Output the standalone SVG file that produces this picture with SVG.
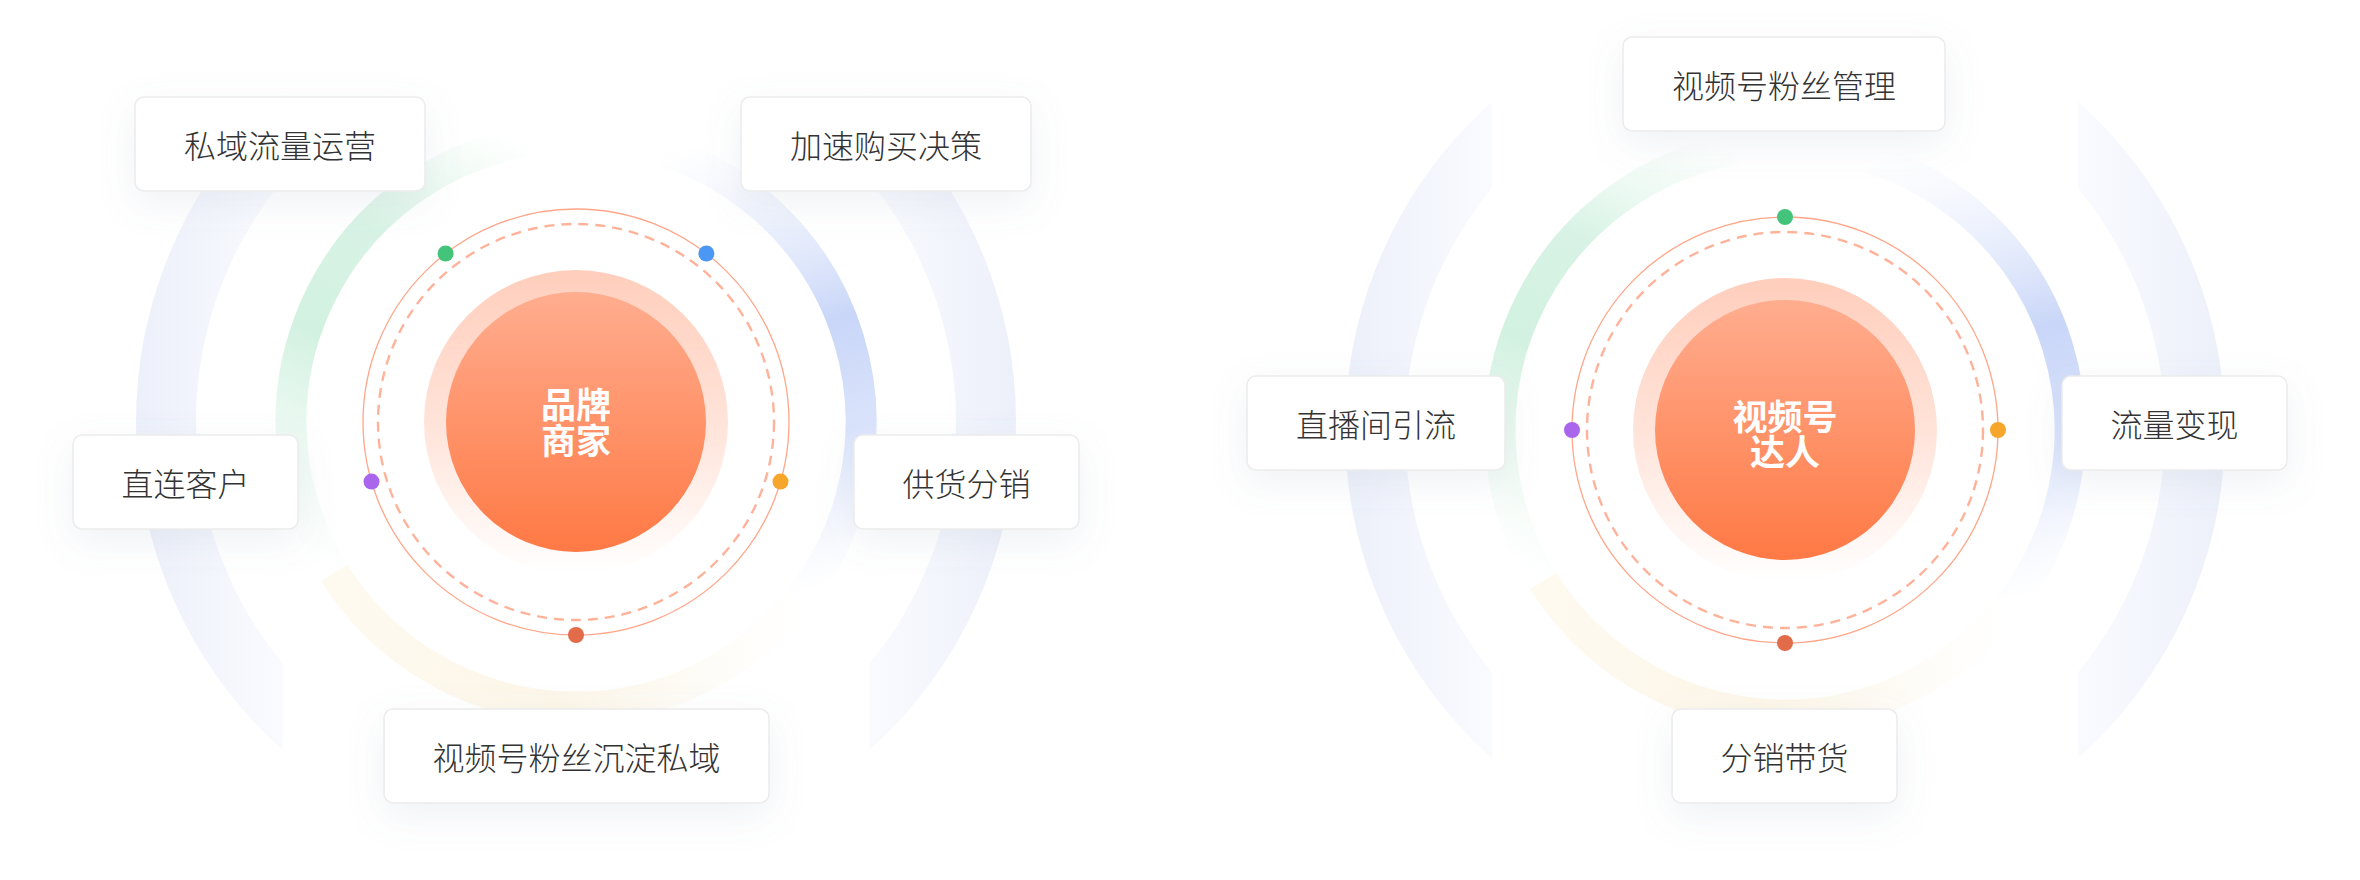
<svg xmlns="http://www.w3.org/2000/svg" width="2360" height="880" viewBox="0 0 2360 880">
  <style>
    .box { fill: #ffffff; stroke: #ececec; stroke-width: 1.5; filter: url(#shadow); }
    .label { font-family: "Noto Sans CJK SC", "Liberation Sans", sans-serif; font-size: 32px; font-weight: 300; fill: #333333; text-anchor: middle; dominant-baseline: central; }
    .core-text { font-family: "Noto Sans CJK SC", "Liberation Sans", sans-serif; font-size: 35px; font-weight: 700; fill: #ffffff; text-anchor: middle; dominant-baseline: central; }
    .outer { fill: none; stroke: url(#gOuter); stroke-width: 60; }
    .arc { fill: none; stroke-width: 31; }
    .thin { fill: none; stroke: #ffa689; stroke-width: 1.3; }
    .dash { fill: none; stroke: #ffb29a; stroke-width: 2.4; stroke-dasharray: 10 7; }
  </style>
  <defs>
    <filter id="shadow" x="-40%" y="-60%" width="180%" height="240%">
      <feDropShadow dx="0" dy="12" stdDeviation="18" flood-color="#7a86a0" flood-opacity="0.11"/>
    </filter>
    <linearGradient id="gOuter" gradientUnits="userSpaceOnUse" x1="-440" y1="0" x2="440" y2="0">
      <stop offset="0" stop-color="#ecf0fa"/>
      <stop offset="0.17" stop-color="#fafbff"/>
      <stop offset="0.83" stop-color="#fafbff"/>
      <stop offset="1" stop-color="#ecf0fa"/>
    </linearGradient>
    <linearGradient id="gGreen" gradientUnits="userSpaceOnUse" x1="-241.7" y1="151" x2="-49.5" y2="-280.7">
      <stop offset="0" stop-color="#e4f7ec" stop-opacity="0"/>
      <stop offset="0.45" stop-color="#d2f1e0"/>
      <stop offset="0.7" stop-color="#d8f3e5"/>
      <stop offset="1" stop-color="#e4f7ec" stop-opacity="0"/>
    </linearGradient>
    <linearGradient id="gBlue" gradientUnits="userSpaceOnUse" x1="88.1" y1="-271.1" x2="224.6" y2="175.5">
      <stop offset="0" stop-color="#e6ecfc" stop-opacity="0"/>
      <stop offset="0.45" stop-color="#c9d6f8"/>
      <stop offset="0.7" stop-color="#dbe4fb"/>
      <stop offset="1" stop-color="#eef2fd" stop-opacity="0"/>
    </linearGradient>
    <linearGradient id="gYellow" gradientUnits="userSpaceOnUse" x1="-241.7" y1="151" x2="224.6" y2="175.5">
      <stop offset="0" stop-color="#fefaf0"/>
      <stop offset="0.5" stop-color="#fdf6e8"/>
      <stop offset="1" stop-color="#fdf8ec" stop-opacity="0"/>
    </linearGradient>
    <linearGradient id="gHalo" x1="0" y1="0" x2="0" y2="1">
      <stop offset="0" stop-color="#ffcebc"/>
      <stop offset="0.5" stop-color="#ffe3d9"/>
      <stop offset="1" stop-color="#ffffff"/>
    </linearGradient>
    <linearGradient id="gCore" x1="0" y1="0" x2="0" y2="1">
      <stop offset="0" stop-color="#ffad8f"/>
      <stop offset="1" stop-color="#ff7945"/>
    </linearGradient>
    <clipPath id="sides" clipPathUnits="userSpaceOnUse">
      <rect x="-500" y="-500" width="207" height="1000"/>
      <rect x="293" y="-500" width="207" height="1000"/>
    </clipPath>
  </defs>

  <rect x="0" y="0" width="2360" height="880" fill="#ffffff"/>

  <!-- Left diagram decoration -->
  <g id="rings-left" transform="translate(576,422)">
    <circle class="outer" r="410" clip-path="url(#sides)"/>
    <path class="arc" stroke="url(#gGreen)" d="M -241.7 151 A 285 285 0 0 1 -49.5 -280.7"/>
    <path class="arc" stroke="url(#gBlue)" d="M 88.1 -271.1 A 285 285 0 0 1 224.6 175.5"/>
    <path class="arc" stroke="url(#gYellow)" d="M 224.6 175.5 A 285 285 0 0 1 -241.7 151"/>
    <circle class="thin" r="213"/>
    <circle class="dash" r="198"/>
    <circle r="8" cx="-130.4" cy="-168.5" fill="#44c47b"/>
    <circle r="8" cx="130.4" cy="-168.5" fill="#4b97f4"/>
    <circle r="8" cx="-204.5" cy="59.6" fill="#a966ec"/>
    <circle r="8" cx="204.5" cy="59.6" fill="#f6a62b"/>
    <circle r="8" cx="0" cy="213" fill="#e26b4a"/>
  </g>

  <!-- Right diagram decoration -->
  <g id="rings-right" transform="translate(1785,430)">
    <circle class="outer" r="410" clip-path="url(#sides)"/>
    <path class="arc" stroke="url(#gGreen)" d="M -241.7 151 A 285 285 0 0 1 -49.5 -280.7"/>
    <path class="arc" stroke="url(#gBlue)" d="M 88.1 -271.1 A 285 285 0 0 1 224.6 175.5"/>
    <path class="arc" stroke="url(#gYellow)" d="M 224.6 175.5 A 285 285 0 0 1 -241.7 151"/>
    <circle class="thin" r="213"/>
    <circle class="dash" r="198"/>
    <circle r="8" cx="0" cy="-213" fill="#44c47b"/>
    <circle r="8" cx="-213" cy="0" fill="#a966ec"/>
    <circle r="8" cx="213" cy="0" fill="#f6a62b"/>
    <circle r="8" cx="0" cy="213" fill="#e26b4a"/>
  </g>

  <g id="connectors"></g>

  <!-- Centre nodes -->
  <g id="node-brand">
    <circle cx="576" cy="422" r="152" fill="url(#gHalo)"/>
    <circle cx="576" cy="422" r="130" fill="url(#gCore)"/>
    <text class="core-text" x="576" y="402">品牌<tspan x="576" dy="36">商家</tspan></text>
  </g>
  <g id="node-creator">
    <circle cx="1785" cy="430" r="152" fill="url(#gHalo)"/>
    <circle cx="1785" cy="430" r="130" fill="url(#gCore)"/>
    <text class="core-text" x="1785" y="414">视频号<tspan x="1785" dy="35">达人</tspan></text>
  </g>

  <!-- Left boxes -->
  <g id="node-private-traffic">
    <rect class="box" x="135" y="97" width="290" height="94" rx="9"/>
    <text class="label" x="280" y="144">私域流量运营</text>
  </g>
  <g id="node-speed-purchase">
    <rect class="box" x="741" y="97" width="290" height="94" rx="9"/>
    <text class="label" x="886" y="144">加速购买决策</text>
  </g>
  <g id="node-direct-customer">
    <rect class="box" x="73" y="435" width="225" height="94" rx="9"/>
    <text class="label" x="185.5" y="482">直连客户</text>
  </g>
  <g id="node-supply">
    <rect class="box" x="854" y="435" width="225" height="94" rx="9"/>
    <text class="label" x="966.5" y="482">供货分销</text>
  </g>
  <g id="node-fans-private">
    <rect class="box" x="384" y="709" width="385" height="94" rx="9"/>
    <text class="label" x="576.5" y="756">视频号粉丝沉淀私域</text>
  </g>

  <!-- Right boxes -->
  <g id="node-fans-manage">
    <rect class="box" x="1623" y="37" width="322" height="94" rx="9"/>
    <text class="label" x="1784" y="84">视频号粉丝管理</text>
  </g>
  <g id="node-live-traffic">
    <rect class="box" x="1247" y="376" width="258" height="94" rx="9"/>
    <text class="label" x="1376" y="423">直播间引流</text>
  </g>
  <g id="node-monetize">
    <rect class="box" x="2062" y="376" width="225" height="94" rx="9"/>
    <text class="label" x="2174.5" y="423">流量变现</text>
  </g>
  <g id="node-distribution">
    <rect class="box" x="1672" y="709" width="225" height="94" rx="9"/>
    <text class="label" x="1784.5" y="756">分销带货</text>
  </g>
</svg>
